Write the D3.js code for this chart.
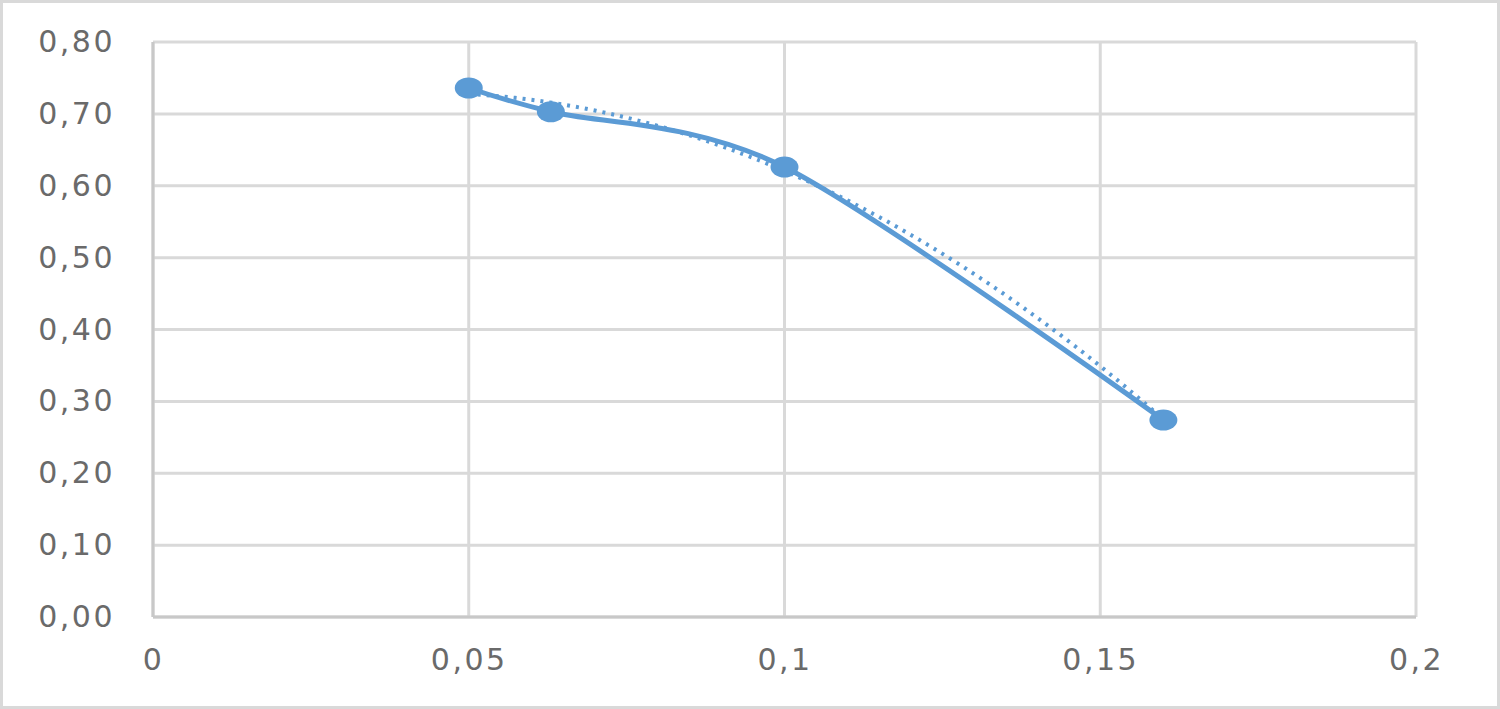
<!DOCTYPE html>
<html>
<head>
<meta charset="utf-8">
<script src="https://cdn.jsdelivr.net/npm/d3@7"></script>
<style>
    body { margin: 0; background: #fff; }
    .axis text { font-family: 'DejaVu Sans', sans-serif; font-size: 30px; fill: #6a6a6a; letter-spacing: 2.5px; }
</style>
</head>
<body>
<svg id="chart" width="1500" height="709"></svg>
<script>
// values
var xValues = [0.05, 0.063, 0.1, 0.16];
var yValues = [0.736, 0.703, 0.626, 0.274];
var xTicks = [0, 0.05, 0.1, 0.15, 0.2];
var yTicks = [0, 0.1, 0.2, 0.3, 0.4, 0.5, 0.6, 0.7, 0.8];

var svg = d3.select('#chart');
var svgWidth = 1500, svgHeight = 709;
var plot = {l: 153, r: 1416, t: 42, b: 617};
var blue = '#5b9bd5';

// outer frame
svg.append('rect')
    .attr('x', 1.5).attr('y', 1.5)
    .attr('width', svgWidth - 3).attr('height', svgHeight - 3)
    .attr('fill', '#fff')
    .attr('stroke', '#d9d9d9')
    .attr('stroke-width', 3);

var xScale = d3.scaleLinear().domain([0, 0.2]).range([plot.l, plot.r]);
var yScale = d3.scaleLinear().domain([0, 0.8]).range([plot.b, plot.t]);

var comma = function(fmt){
    return function(d){ return d3.format(fmt)(d).replace('.', ','); };
};

// gridlines
var grid = svg.append('g').attr('class', 'grid');
grid.selectAll('.hgrid')
    .data(yTicks)
    .enter()
    .append('line')
    .attr('x1', plot.l).attr('x2', plot.r)
    .attr('y1', function(d){ return yScale(d); })
    .attr('y2', function(d){ return yScale(d); })
    .attr('stroke', '#d9d9d9')
    .attr('stroke-width', 3);
grid.selectAll('.vgrid')
    .data(xTicks)
    .enter()
    .append('line')
    .attr('y1', plot.t).attr('y2', plot.b)
    .attr('x1', function(d){ return xScale(d); })
    .attr('x2', function(d){ return xScale(d); })
    .attr('stroke', '#d9d9d9')
    .attr('stroke-width', 3);

// axis lines
svg.append('line')
    .attr('x1', plot.l).attr('x2', plot.r)
    .attr('y1', plot.b).attr('y2', plot.b)
    .attr('stroke', '#c8c8c8').attr('stroke-width', 3);
svg.append('line')
    .attr('x1', plot.l).attr('x2', plot.l)
    .attr('y1', plot.t).attr('y2', plot.b)
    .attr('stroke', '#c8c8c8').attr('stroke-width', 3);

// axes (labels only)
var yAxis = d3.axisLeft(yScale).tickValues(yTicks).tickSize(0).tickPadding(38)
    .tickFormat(comma('.2f'));
svg.append('g')
    .attr('class', 'axis')
    .attr('transform', 'translate(' + plot.l + ',0)')
    .call(yAxis)
    .call(function(g){ g.select('.domain').remove(); });

var xAxis = d3.axisBottom(xScale).tickValues(xTicks).tickSize(0).tickPadding(32)
    .tickFormat(function(d){ return String(d).replace('.', ','); });
svg.append('g')
    .attr('class', 'axis')
    .attr('transform', 'translate(0,' + plot.b + ')')
    .call(xAxis)
    .call(function(g){ g.select('.domain').remove(); });

var points = xValues.map(function(x, i){ return {x: x, y: yValues[i]}; });

// polynomial (order 2) trendline, least squares on the points
function polyFit(pts){
    var n = pts.length, sx = 0, sx2 = 0, sx3 = 0, sx4 = 0, sy = 0, sxy = 0, sx2y = 0;
    pts.forEach(function(p){
        var x = p.x, y = p.y;
        sx += x; sx2 += x*x; sx3 += x*x*x; sx4 += x*x*x*x;
        sy += y; sxy += x*y; sx2y += x*x*y;
    });
    var m = [[n, sx, sx2, sy], [sx, sx2, sx3, sxy], [sx2, sx3, sx4, sx2y]];
    for (var i = 0; i < 3; i++) {
        for (var k = i + 1; k < 3; k++) {
            var f = m[k][i] / m[i][i];
            for (var j = i; j < 4; j++) m[k][j] -= f * m[i][j];
        }
    }
    var c = [0, 0, 0];
    for (var i2 = 2; i2 >= 0; i2--) {
        var s = m[i2][3];
        for (var j2 = i2 + 1; j2 < 3; j2++) s -= m[i2][j2] * c[j2];
        c[i2] = s / m[i2][i2];
    }
    return c;
}
var coef = polyFit(points);
var trend = d3.range(0, 61).map(function(i){
    var x = xValues[0] + (xValues[xValues.length - 1] - xValues[0]) * i / 60;
    return {x: x, y: coef[0] + coef[1]*x + coef[2]*x*x};
});

var line = d3.line()
    .x(function(d){ return xScale(d.x); })
    .y(function(d){ return yScale(d.y); });

svg.append('path')
    .datum(trend)
    .attr('d', line)
    .attr('fill', 'none')
    .attr('stroke', blue)
    .attr('stroke-width', 4)
    .attr('stroke-dasharray', '3,6');

svg.append('path')
    .datum(points)
    .attr('d', line.curve(d3.curveCardinal.tension(0.1)))
    .attr('fill', 'none')
    .attr('stroke', blue)
    .attr('stroke-width', 5)
    .attr('stroke-linecap', 'round');

svg.selectAll('.marker')
    .data(points)
    .enter()
    .append('ellipse')
    .attr('class', 'marker')
    .attr('cx', function(d){ return xScale(d.x); })
    .attr('cy', function(d){ return yScale(d.y); })
    .attr('rx', 14)
    .attr('ry', 10.5)
    .attr('fill', blue);
</script>
</body>
</html>
